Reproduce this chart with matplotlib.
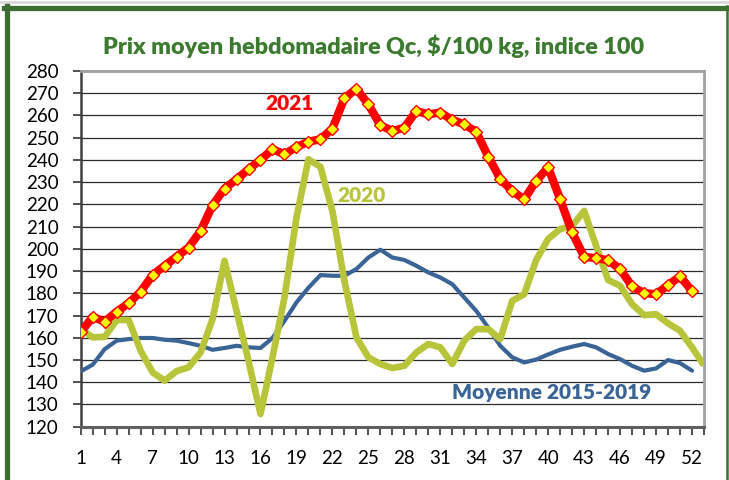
import matplotlib
matplotlib.use("Agg")
import matplotlib.pyplot as plt
from matplotlib.lines import Line2D
import numpy as np

title = "Prix moyen hebdomadaire Qc, $/100 kg, indice 100"

prix_2021 = [162.5, 169.4, 167.3, 171.7, 175.6, 180.7, 188.2, 192.4, 196.5, 200.6,
             208.0, 219.6, 227.1, 231.3, 235.8, 240.0, 244.8, 242.6, 245.8, 248.2,
             249.3, 254.1, 267.7, 272.0, 265.0, 255.6, 253.0, 254.5, 262.0, 260.5,
             261.3, 258.0, 256.0, 252.6, 241.5, 231.5, 226.0, 222.3, 230.6, 236.6,
             222.3, 207.4, 196.4, 195.8, 194.9, 190.9, 183.1, 180.1, 179.6, 183.7,
             187.6, 181.1]

prix_2020 = [164.0, 160.2, 160.4, 168.0, 168.0, 154.2, 144.4, 140.7, 145.0, 146.7,
             153.4, 168.4, 194.6, 172.1, 149.6, 125.7, 151.2, 178.1, 214.0, 240.3,
             236.9, 217.0, 185.6, 160.2, 151.2, 148.2, 146.4, 147.4, 153.4, 157.2,
             155.7, 148.2, 158.7, 163.9, 163.9, 159.4, 176.6, 179.6, 195.0, 204.5,
             208.9, 210.3, 217.1, 201.3, 186.0, 183.4, 175.1, 170.2, 170.6, 166.5,
             163.2, 155.7, 147.6]

moyenne_2015_2019 = [144.9, 147.9, 154.9, 158.7, 159.4, 159.9, 159.9, 159.1, 158.7, 157.6,
                     156.4, 154.6, 155.4, 156.4, 155.7, 155.4, 159.9, 167.6, 175.9, 182.5,
                     188.2, 187.9, 187.9, 190.9, 196.1, 199.6, 196.1, 195.0, 192.4, 189.4,
                     187.1, 184.1, 178.1, 172.1, 164.6, 156.4, 151.2, 148.9, 150.2, 152.5,
                     154.6, 156.0, 157.2, 155.7, 152.7, 150.4, 147.4, 145.2, 146.2, 150.0,
                     148.6, 145.2]

label_2021 = "2021"
label_2020 = "2020"
label_moy = "Moyenne 2015-2019"

weeks_2021 = np.arange(1, len(prix_2021) + 1)
weeks_2020 = np.arange(1, len(prix_2020) + 1)
weeks_moy = np.arange(1, len(moyenne_2015_2019) + 1)
x_tick_labels = [str(w) for w in range(1, 53, 3)]
y_ticks = list(range(120, 281, 10))

FONT = ["Lato", "DejaVu Sans"]
plt.rcParams["font.family"] = FONT

W, H = 729, 480
fig = plt.figure(figsize=(W / 100, H / 100), dpi=100)
fig.patch.set_facecolor("white")

ax = fig.add_axes([80.7 / W, 1 - 426.7 / H, (704 - 80.7) / W, (426.7 - 71) / H])

c_red = "#FF0000"
c_olive = "#B8C43A"
c_blue = "#3A6496"

ax.plot(weeks_moy, moyenne_2015_2019, color=c_blue, lw=3.0, zorder=3,
        solid_joinstyle="round", solid_capstyle="round")
ax.plot(weeks_2020, prix_2020, color=c_olive, lw=4.8, zorder=4,
        solid_joinstyle="round", solid_capstyle="butt")
ax.plot(weeks_2021, prix_2021, color=c_red, lw=6.0, zorder=5,
        solid_joinstyle="round", solid_capstyle="round",
        marker="D", markersize=6.6, markerfacecolor="#FFFF00",
        markeredgecolor=c_red, markeredgewidth=1.0)

ax.set_xlim(1, 53)
ax.set_ylim(120, 280)
ax.set_yticks(y_ticks)
ax.set_yticklabels([str(v) for v in y_ticks])
ax.set_xticks(np.arange(1, 54))
ax.set_xticklabels([str(w) if str(w) in x_tick_labels else "" for w in range(1, 54)])

for v in y_ticks[1:]:
    ax.axhline(v, color="#2a2a2a", lw=0.9, zorder=1)

ax.tick_params(axis="y", direction="out", length=6, width=1.2, color="#333333",
               labelsize=13.5, pad=10, labelcolor="black")
ax.tick_params(axis="x", direction="out", length=6, width=1.2, color="#333333",
               labelsize=13.5, pad=10.5, labelcolor="black")

ax.spines["left"].set_color("#404040")
ax.spines["left"].set_linewidth(1.8)
ax.spines["bottom"].set_color("#606060")
ax.spines["bottom"].set_linewidth(2.2)
ax.spines["top"].set_color("#A0A0A0")
ax.spines["top"].set_linewidth(2.0)
ax.spines["right"].set_color("#A0A0A0")
ax.spines["right"].set_linewidth(2.0)

fig.text(289 / W, 1 - 104 / H, label_2021, color=c_red, fontsize=15, fontweight="heavy",
         ha="center", va="center")
fig.text(362 / W, 1 - 195 / H, label_2020, color=c_olive, fontsize=15, fontweight="heavy",
         ha="center", va="center")
fig.text(552 / W, 1 - 393 / H, label_moy, color=c_blue, fontsize=15, fontweight="heavy",
         ha="center", va="center")

fig.text(374 / W, 1 - 46 / H, title, color="#3B7A2F", fontsize=16.8, fontweight="heavy",
         ha="center", va="center")

# outer green frame
green = "#3B6E2F"
fig.add_artist(Line2D([1 / W, 1], [1 - 2 / H, 1 - 2 / H], color="#D8D8D8", lw=2.0))
fig.add_artist(Line2D([4 / W, 729 / W], [1 - 7.5 / H, 1 - 7.5 / H], color=green, lw=3.8))
fig.add_artist(Line2D([6.5 / W, 6.5 / W], [0, 1 - 5.5 / H], color=green, lw=3.8))
fig.add_artist(Line2D([726.5 / W, 726.5 / W], [0, 1 - 5.5 / H], color=green, lw=1.8))

fig.savefig("out.png", dpi=100, facecolor="white")
